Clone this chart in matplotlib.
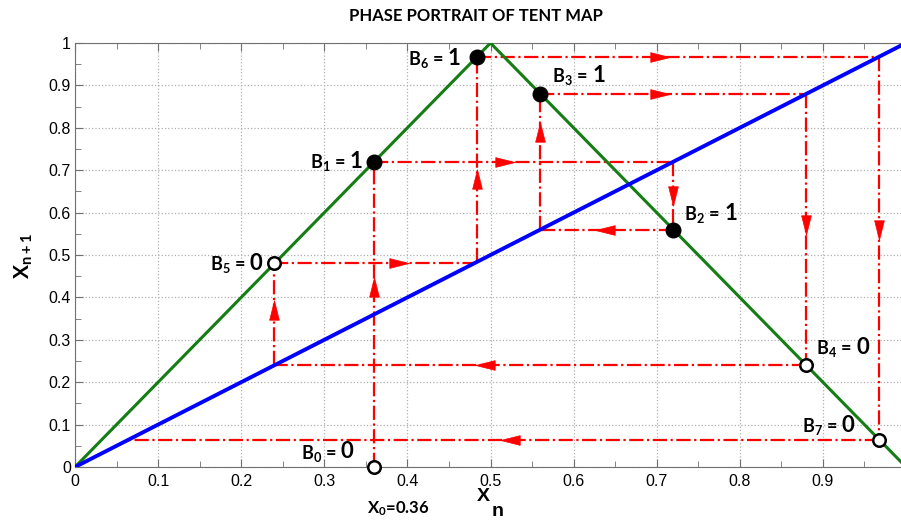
import matplotlib.pyplot as plt
import numpy as np
from matplotlib.path import Path

plt.switch_backend('Agg')

plt.rcParams['font.family'] = ['Liberation Sans', 'DejaVu Sans']
plt.rcParams['mathtext.fontset'] = 'custom'
plt.rcParams['mathtext.bf'] = 'Lato:bold'
plt.rcParams['mathtext.rm'] = 'Lato:bold'
plt.rcParams['mathtext.default'] = 'bf'

# Tent map orbit starting from x0 = 0.36
x0 = 0.36
orbit_x = [0.36, 0.72, 0.56, 0.88, 0.24, 0.484, 0.968]
orbit_y = [0.72, 0.56, 0.88, 0.24, 0.48, 0.968, 0.064]
bits = [0, 1, 1, 1, 0, 0, 1, 0]          # B0 .. B7
# where the arrowheads sit on each vertical / horizontal leg
arrow_v = [0.425, 0.64, 0.79, 0.57, 0.37, 0.68, 0.56]
arrow_h = [0.517, 0.638, 0.704, 0.493, 0.39, 0.704, 0.523]

# label offsets (pixels) and which side of the point the label sits on
label_pos = [(-21, 15, 'right'), (-12, 0, 'right'), (11, 17, 'left'), (12, 19, 'left'),
             (10, 19, 'left'), (-12, 0, 'right'), (-17, -2, 'right'), (-25, 14, 'right')]

fig = plt.figure(figsize=(9.01, 5.21), dpi=100)
ax = fig.add_axes([75 / 901, 1 - 467 / 521, 831 / 901, 424 / 521])

# tent map and diagonal
tx = np.array([0, 0.5, 1])
ax.plot(tx, 1 - np.abs(1 - 2 * tx), color='#147d14', lw=2.2, zorder=3)
ax.plot([0, 1], [0, 1], color='#0000ff', lw=2.8, zorder=3)

# narrow arrowhead shapes
up = Path([(-0.5, -1), (0.5, -1), (0, 1), (-0.5, -1)])
down = Path([(-0.5, 1), (0.5, 1), (0, -1), (-0.5, 1)])
right = Path([(-1, -0.5), (-1, 0.5), (1, 0), (-1, -0.5)])
left = Path([(1, -0.5), (1, 0.5), (-1, 0), (1, -0.5)])

# cobweb
red = '#ff0000'
for i in range(len(orbit_x)):
    x = orbit_x[i]
    y0 = 0.0 if i == 0 else x
    y1 = orbit_y[i]
    ax.plot([x, x], [y0, y1], color=red, lw=1.6, ls='-.', zorder=2)
    ax.plot([x, y1], [y1, y1], color=red, lw=1.6, ls='-.', zorder=2)
    ax.plot(x, arrow_v[i], marker=up if y1 > y0 else down, color=red,
            ms=14, mec=red, mew=0.5, zorder=4)
    ax.plot(arrow_h[i], y1, marker=right if y1 > x else left, color=red,
            ms=14, mec=red, mew=0.5, zorder=4)

# orbit points with their bit labels
all_x = [x0] + orbit_x
all_y = [0.0] + orbit_y
for k, (px, py) in enumerate(zip(all_x, all_y)):
    if bits[k]:
        ax.plot(px, py, 'o', ms=10.5, mfc='black', mec='black', zorder=5, clip_on=False)
    else:
        ax.plot(px, py, 'o', ms=9, mfc='white', mec='black', mew=1.8, zorder=5, clip_on=False)
    dx, dy, ha = label_pos[k]
    if ha == 'right':
        d = ax.annotate(str(bits[k]), (px, py), xytext=(dx, dy), textcoords='offset pixels',
                        ha='right', va='center', fontsize=16, family='Lato',
                        fontweight='bold', zorder=6)
        ax.annotate(r'B$_{%d}$ =' % k, (0, 0.45), xycoords=d, xytext=(-4, 0),
                    textcoords='offset pixels', ha='right', va='center', fontsize=13,
                    family='Lato', fontweight='bold', zorder=6)
    else:
        b = ax.annotate(r'B$_{%d}$ =' % k, (px, py), xytext=(dx, dy - 2),
                        textcoords='offset pixels', ha='left', va='center', fontsize=13,
                        family='Lato', fontweight='bold', zorder=6)
        ax.annotate(str(bits[k]), (1, 0.55), xycoords=b, xytext=(5, 0),
                    textcoords='offset pixels', ha='left', va='center', fontsize=16,
                    family='Lato', fontweight='bold', zorder=6)

ax.set_xlim(0, 1)
ax.set_ylim(0, 1)
ax.set_xticks(np.arange(0, 0.95, 0.1))
ax.set_xticklabels(['0', '0.1', '0.2', '0.3', '0.4', '0.5', '0.6', '0.7', '0.8', '0.9'])
ax.set_yticks(np.arange(0, 1.05, 0.1))
ax.set_yticklabels(['0', '0.1', '0.2', '0.3', '0.4', '0.5', '0.6', '0.7', '0.8', '0.9', '1'])
ax.set_xticks(np.arange(0.05, 1.0, 0.1), minor=True)
ax.set_yticks(np.arange(0.05, 1.0, 0.1), minor=True)
ax.tick_params(which='both', direction='in', top=True, right=False, colors='#707070',
               labelcolor='black', labelsize=11.5)
ax.tick_params(axis='y', pad=3)
ax.tick_params(axis='x', pad=5)
ax.tick_params(which='major', length=6)
ax.tick_params(which='minor', length=4)
ax.grid(True, which='major', ls=':', color='#b0b0b0', lw=0.9)
for s in ['left', 'bottom', 'top']:
    ax.spines[s].set_color('#707070')
ax.spines['right'].set_visible(False)

fig.text(476 / 901, 1 - 16 / 521, 'PHASE PORTRAIT OF TENT MAP', ha='center', va='center',
         fontsize=12, family='Lato', fontweight='bold')
# x axis label, drawn as X with a large subscript n
fig.text(477 / 901, 1 - 501 / 521, 'X', ha='left', va='baseline', fontsize=14,
         fontweight='bold')
fig.text(492 / 901, 1 - 516 / 521, 'n', ha='left', va='baseline', fontsize=14,
         fontweight='bold')
fig.text(367 / 901, 1 - 509 / 521, r'X$_0$=0.36', ha='left', va='center', fontsize=12,
         family='Lato', fontweight='bold')
fig.text(24 / 901, 1 - 256 / 521, r'X$_{n+1}$', ha='center', va='center', fontsize=15,
         family='Lato', fontweight='bold', rotation=90)

fig.savefig('out.png', dpi=100)
